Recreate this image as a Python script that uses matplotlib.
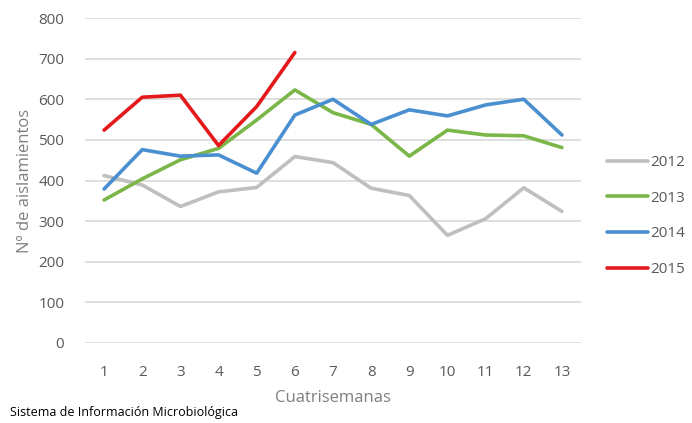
import matplotlib.pyplot as plt

plt.rcParams['font.family'] = ['Open Sans', 'DejaVu Sans']

# datos
cuatrisemanas = list(range(1, 14))
v2012 = [412, 389, 336, 372, 383, 459, 444, 381, 363, 265, 306, 382, 324]
v2013 = [352, 404, 451, 479, 549, 623, 567, 538, 460, 524, 512, 510, 481]
v2014 = [379, 476, 460, 463, 418, 561, 600, 538, 574, 559, 586, 600, 512]
v2015 = [524, 605, 610, 486, 582, 715]

series = [('2012', v2012, '#BFBFBF'),
          ('2013', v2013, '#7AB648'),
          ('2014', v2014, '#4A8FD0'),
          ('2015', v2015, '#E3191C')]

fig = plt.figure(figsize=(6.92, 4.23), dpi=100)
ax = fig.add_axes([85 / 692, 1 - 343 / 423, 496 / 692, 325 / 423])

for nombre, vals, color in series:
    ax.plot(cuatrisemanas[:len(vals)], vals, color=color, lw=2.6,
            label=nombre, solid_capstyle='round', solid_joinstyle='round')

ax.set_xlim(0.5, 13.5)
ax.set_ylim(0, 800)
ax.set_yticks(range(0, 801, 100))
ax.set_xticks(cuatrisemanas)
ax.grid(axis='y', color='#D9D9D9', lw=1.2)
ax.set_axisbelow(True)
for s in ax.spines.values():
    s.set_visible(False)
ax.tick_params(length=0, labelsize=11, labelcolor='#595959')
ax.tick_params(axis='x', pad=16)
ax.tick_params(axis='y', pad=15)

ax.set_ylabel('Nº de aislamientos', fontsize=12, color='#7F7F7F', labelpad=4)
ax.set_xlabel('Cuatrisemanas', fontsize=12, color='#7F7F7F', labelpad=7)

fig.legend(loc='center left', bbox_to_anchor=(607 / 692, 1 - 216 / 423),
           frameon=False, fontsize=11, labelcolor='#595959',
           handlelength=2.7, handletextpad=0.1, labelspacing=1.35,
           borderpad=0, borderaxespad=0)

fig.text(10 / 692, 1 - 412 / 423, 'Sistema de Información Microbiológica',
         fontsize=9, color='black', va='center')

fig.savefig('out.png', dpi=100)
